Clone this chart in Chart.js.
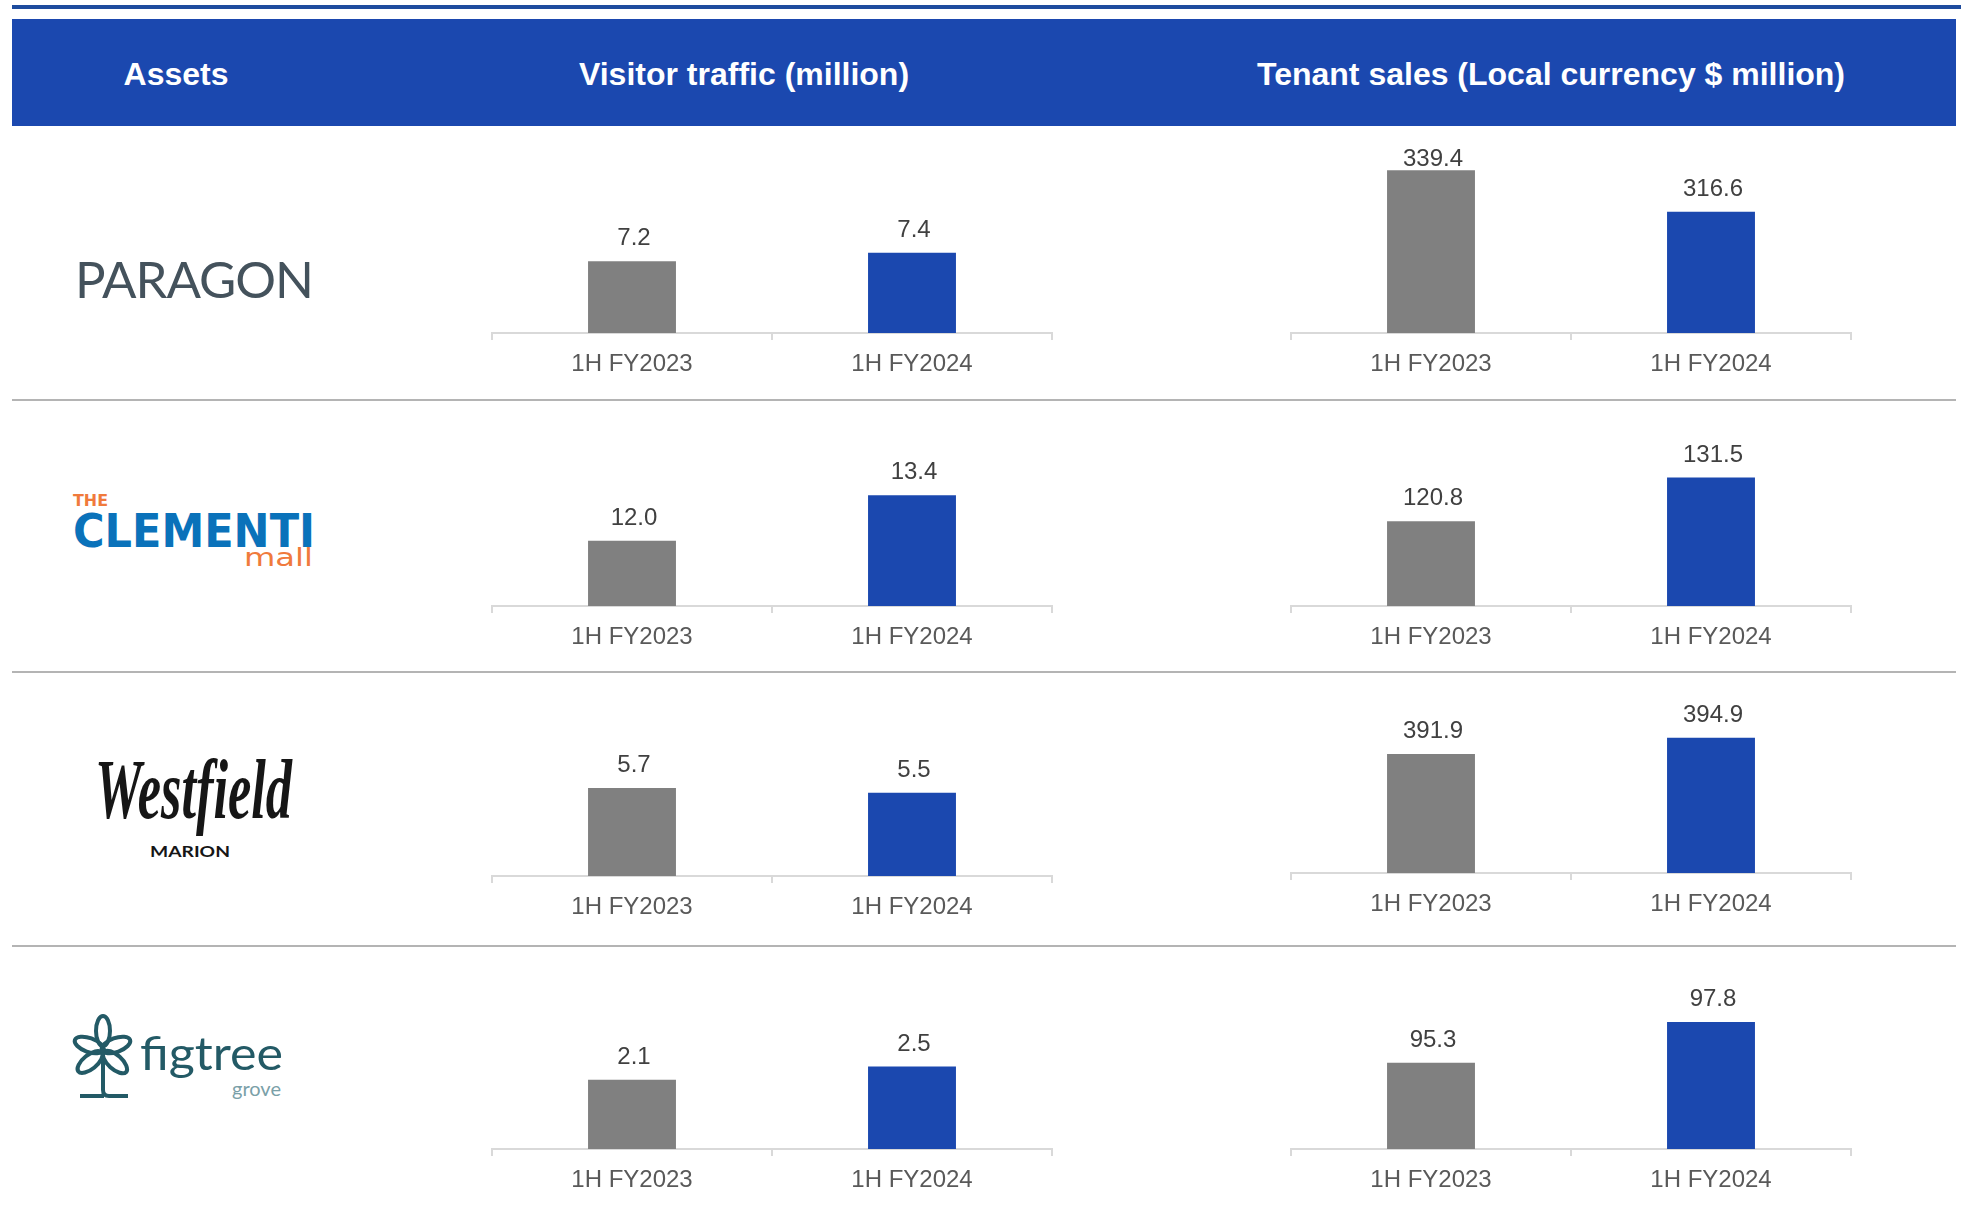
<!DOCTYPE html>
<html lang="en">
<head>
  <meta charset="UTF-8"/>
  <title>Visitor traffic and tenant sales</title>
  <script src="https://cdn.jsdelivr.net/npm/chart.js"></script>
  <style>
    body {
      margin: 0;
      width: 1961px;
      height: 1216px;
      background: #fff;
      position: relative;
      overflow: hidden;
      font-family: "Liberation Sans", Arial, sans-serif;
    }
    .top-line {
      position: absolute;
      left: 12px; right: 0; top: 5px;
      height: 4px;
      background: #1E4C9E;
    }
    .header {
      position: absolute;
      left: 12px; top: 19px;
      width: 1944px; height: 107px;
      background: #1B48AF;
    }
    .header span {
      position: absolute;
      top: 2px;
      line-height: 107px;
      color: #fff;
      font-weight: bold;
      font-size: 32px;
      white-space: nowrap;
      transform: translateX(-50%);
    }
    .sep {
      position: absolute;
      left: 12px;
      width: 1944px; height: 2px;
      background: #b4b4b4;
    }
    .chart-box {
      position: absolute;
      width: 564px;
    }
    #logos {
      position: absolute;
      left: 0; top: 0;
    }
  </style>
</head>
<body>
  <div class="top-line"></div>
  <div class="header">
    <span style="left:164px">Assets</span>
    <span style="left:732px">Visitor traffic (million)</span>
    <span style="left:1539px">Tenant sales (Local currency $ million)</span>
  </div>

  <div class="sep" style="top:399px"></div>
  <div class="sep" style="top:671px"></div>
  <div class="sep" style="top:945px"></div>

  <!-- logos, kept as text -->
  <svg id="logos" width="400" height="1216">
    <text x="75" y="298" textLength="239" lengthAdjust="spacing"
          font-family="Lato" font-size="51" fill="#44525c">PARAGON</text>

    <text x="73" y="506" textLength="35" lengthAdjust="spacingAndGlyphs"
          font-family="DejaVu Sans" font-weight="bold" font-size="15" fill="#f07a3c">THE</text>
    <text x="73" y="547" textLength="242" lengthAdjust="spacingAndGlyphs"
          font-family="DejaVu Sans" font-weight="bold" font-size="46" fill="#0a72ba">CLEMENTI</text>
    <text x="244" y="566" textLength="69" lengthAdjust="spacingAndGlyphs"
          font-family="DejaVu Sans" font-size="25" fill="#f07a3c">mall</text>

    <text x="95" y="818" textLength="197" lengthAdjust="spacingAndGlyphs"
          font-family="Liberation Serif" font-weight="bold" font-style="italic" font-size="84" fill="#161616">Westfield</text>
    <text x="150" y="857" textLength="80" lengthAdjust="spacingAndGlyphs"
          font-family="Lato" font-weight="bold" font-size="16" fill="#161616">MARION</text>

    <g fill="none" stroke="#235a66" stroke-width="4">
      <ellipse cx="103" cy="1031" rx="7" ry="15"/>
      <ellipse cx="89" cy="1045" rx="15" ry="7" transform="rotate(20 89 1045)"/>
      <ellipse cx="116" cy="1045" rx="15" ry="7" transform="rotate(-20 116 1045)"/>
      <ellipse cx="90" cy="1062" rx="15" ry="7" transform="rotate(-39 90 1062)"/>
      <ellipse cx="115" cy="1062" rx="15" ry="7" transform="rotate(42 115 1062)"/>
      <path d="M103 1050 L103 1090 Q103 1096 109 1096 L128 1096 M80 1096 L104 1096"/>
    </g>
    <circle cx="103" cy="1050" r="3" fill="#235a66"/>
    <text x="140" y="1070" textLength="143" lengthAdjust="spacingAndGlyphs"
          font-family="Lato" font-size="46" fill="#235a66">figtree</text>
    <text x="232" y="1096" textLength="49" lengthAdjust="spacingAndGlyphs"
          font-family="Lato" font-size="20" fill="#7aa0a8">grove</text>
  </svg>

  <!-- visitor traffic charts -->
  <div class="chart-box" style="left:490px; top:146px; height:237px"><canvas id="visitor0"></canvas></div>
  <div class="chart-box" style="left:490px; top:416px; height:240px"><canvas id="visitor1"></canvas></div>
  <div class="chart-box" style="left:490px; top:686px; height:240px"><canvas id="visitor2"></canvas></div>
  <div class="chart-box" style="left:490px; top:960px; height:239px"><canvas id="visitor3"></canvas></div>

  <!-- tenant sales charts -->
  <div class="chart-box" style="left:1289px; top:146px; height:237px"><canvas id="sales0"></canvas></div>
  <div class="chart-box" style="left:1289px; top:416px; height:240px"><canvas id="sales1"></canvas></div>
  <div class="chart-box" style="left:1289px; top:686px; height:237px"><canvas id="sales2"></canvas></div>
  <div class="chart-box" style="left:1289px; top:960px; height:239px"><canvas id="sales3"></canvas></div>

  <script>
    // rows: Paragon, The Clementi Mall, Westfield Marion, Figtree Grove
    const assets = ["Paragon", "The Clementi Mall", "Westfield Marion", "Figtree Grove"];
    const periods = ["1H FY2023", "1H FY2024"];

    const visitor2023 = [7.2, 12.0, 5.7, 2.1];
    const visitor2024 = [7.4, 13.4, 5.5, 2.5];
    const sales2023   = [339.4, 120.8, 391.9, 95.3];
    const sales2024   = [316.6, 131.5, 394.9, 97.8];

    // hidden value axes (each small chart has its own range)
    const visitorAxisMin = [5.5, 10, 2, 0];
    const visitorAxisMax = [9.93, 15.83, 9.98, 5.73];
    const salesAxisMin   = [250, 100, 370, 90];
    const salesAxisMax   = [352.7, 146.6, 404.4, 101.6];

    const barColors = ["#808080", "#1B48AF"];
    const fontFamily = '"Liberation Sans", Arial, sans-serif';
    Chart.defaults.font.family = fontFamily;

    // value labels above the bars, kept inside the canvas
    const valueLabels = {
      id: "valueLabels",
      afterDatasetsDraw(chart) {
        const ctx = chart.ctx;
        const values = chart.data.datasets[0].data;
        ctx.save();
        ctx.font = "24px " + fontFamily;
        ctx.fillStyle = "#404040";
        ctx.textAlign = "center";
        ctx.textBaseline = "alphabetic";
        chart.getDatasetMeta(0).data.forEach((bar, i) => {
          const y = Math.max(bar.y - 16, chart.chartArea.top + 20);
          ctx.fillText(values[i].toFixed(1), bar.x + 2, y);
        });
        ctx.restore();
      }
    };

    function smallBarChart(id, values, min, max) {
      return new Chart(document.getElementById(id), {
        type: "bar",
        data: {
          labels: periods,
          datasets: [{
            data: values,
            backgroundColor: barColors,
            barPercentage: 0.314,
            categoryPercentage: 1
          }]
        },
        options: {
          responsive: true,
          maintainAspectRatio: false,
          animation: false,
          layout: { padding: { left: 2, right: 2, top: 0, bottom: 0 } },
          plugins: { legend: { display: false }, tooltip: { enabled: false } },
          scales: {
            y: { display: false, min: min, max: max },
            x: {
              grid: {
                display: true,
                drawOnChartArea: false,
                drawTicks: true,
                tickLength: 7,
                color: "#d9d9d9",
                lineWidth: 2,
                offset: true
              },
              border: { display: true, color: "#d9d9d9", width: 2 },
              ticks: {
                color: "#595959",
                font: { size: 24 },
                padding: 10,
                maxRotation: 0
              },
              afterFit(scale) { scale.height = 50; }
            }
          }
        },
        plugins: [valueLabels]
      });
    }

    assets.forEach((name, i) => {
      smallBarChart("visitor" + i, [visitor2023[i], visitor2024[i]], visitorAxisMin[i], visitorAxisMax[i]);
      smallBarChart("sales" + i, [sales2023[i], sales2024[i]], salesAxisMin[i], salesAxisMax[i]);
    });
  </script>
</body>
</html>
